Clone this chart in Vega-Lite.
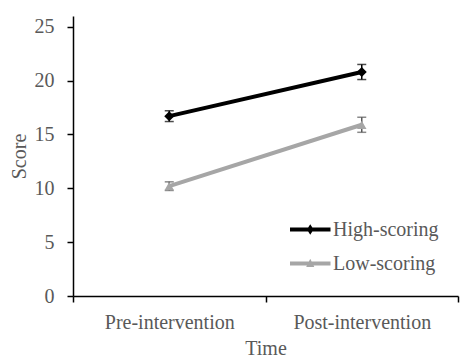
{
  "$schema": "https://vega.github.io/schema/vega-lite/v6.json",
  "autosize": "none",
  "padding": {"left": 73, "top": 16, "right": 4, "bottom": 63},
  "width": 385,
  "height": 280,
  "background": "white",
  "config": {
    "view": {"stroke": null},
    "font": "Liberation Serif",
    "axis": {
      "grid": false,
      "domainColor": "black",
      "domainWidth": 1.5,
      "tickColor": "black",
      "tickWidth": 1.5,
      "tickSize": 6,
      "labelColor": "#595959",
      "labelFontSize": 20,
      "labelFont": "Liberation Serif",
      "titleColor": "#595959",
      "titleFontSize": 20,
      "titleFont": "Liberation Serif",
      "titleFontWeight": "normal"
    }
  },
  "data": {
    "values": [
      {"group": "High-scoring", "time": "Pre-intervention", "score": 16.7, "lo": 16.2, "hi": 17.2},
      {"group": "High-scoring", "time": "Post-intervention", "score": 20.8, "lo": 20.1, "hi": 21.5},
      {"group": "Low-scoring", "time": "Pre-intervention", "score": 10.2, "lo": 9.8, "hi": 10.6},
      {"group": "Low-scoring", "time": "Post-intervention", "score": 15.9, "lo": 15.2, "hi": 16.6}
    ]
  },
  "encoding": {
    "x": {
      "field": "time",
      "type": "nominal",
      "sort": ["Pre-intervention", "Post-intervention"],
      "scale": {"paddingInner": 0, "paddingOuter": 0},
      "axis": {"title": "Time", "labelAngle": 0, "tickBand": "extent", "labelPadding": 10, "titlePadding": 6}
    }
  },
  "layer": [
    {
      "mark": {"type": "line", "strokeWidth": 4},
      "encoding": {
        "y": {
          "field": "score",
          "type": "quantitative",
          "scale": {"domain": [0, 25]},
          "axis": {"title": "Score", "values": [0, 5, 10, 15, 20, 25], "labelPadding": 13, "titlePadding": 5}
        },
        "color": {
          "field": "group",
          "type": "nominal",
          "scale": {"domain": ["High-scoring", "Low-scoring"], "range": ["#000000", "#A6A6A6"]},
          "legend": {
            "title": null,
            "orient": "none",
            "legendX": 217,
            "legendY": 200,
            "padding": 0,
            "rowPadding": 10,
            "symbolSize": 729,
            "labelOffset": 16,
            "labelFont": "Liberation Serif",
            "labelFontSize": 20,
            "labelColor": "#595959",
            "encode": {
              "symbols": {
                "update": {
                  "shape": {"signal": "datum.value === 'High-scoring' ? 'M-1,-0.14H2V0.14H-1Z M0.5,-0.38L0.75,0L0.5,0.38L0.25,0Z' : 'M-1,-0.14H2V0.14H-1Z M0.5,-0.35L0.8,0.25H0.2Z'"},
                  "fill": {"signal": "datum.value === 'High-scoring' ? '#000000' : '#A6A6A6'"},
                  "fillOpacity": {"value": 1},
                  "opacity": {"value": 1},
                  "strokeWidth": {"value": 0}
                }
              }
            }
          }
        }
      }
    },
    {
      "mark": {"type": "rule", "strokeWidth": 1.5},
      "encoding": {
        "y": {"field": "lo", "type": "quantitative"},
        "y2": {"field": "hi"},
        "stroke": {"field": "group", "type": "nominal", "scale": {"domain": ["High-scoring", "Low-scoring"], "range": ["#000000", "#595959"]}, "legend": null}
      }
    },
    {
      "mark": {"type": "tick", "size": 9, "thickness": 1.5},
      "encoding": {
        "y": {"field": "lo", "type": "quantitative"},
        "fill": {"field": "group", "type": "nominal", "scale": {"domain": ["High-scoring", "Low-scoring"], "range": ["#000000", "#595959"]}, "legend": null}
      }
    },
    {
      "mark": {"type": "tick", "size": 9, "thickness": 1.5},
      "encoding": {
        "y": {"field": "hi", "type": "quantitative"},
        "fill": {"field": "group", "type": "nominal", "legend": null}
      }
    },
    {
      "transform": [{"filter": "datum.group === 'High-scoring'"}],
      "mark": {"type": "point", "filled": true, "opacity": 1, "size": 100, "shape": "diamond"},
      "encoding": {
        "y": {"field": "score", "type": "quantitative"},
        "color": {"field": "group", "type": "nominal"}
      }
    },
    {
      "transform": [{"filter": "datum.group === 'Low-scoring'"}],
      "mark": {"type": "point", "filled": true, "opacity": 1, "size": 90, "shape": "triangle-up"},
      "encoding": {
        "y": {"field": "score", "type": "quantitative"},
        "color": {"field": "group", "type": "nominal"}
      }
    }
  ]
}
